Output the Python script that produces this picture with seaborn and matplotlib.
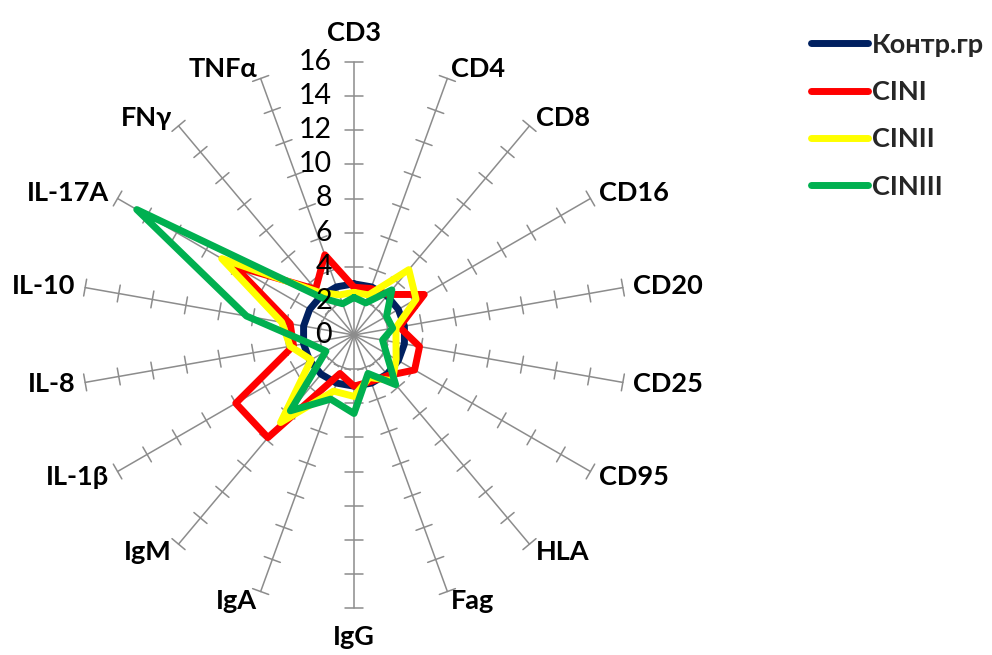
import numpy as np
import pandas as pd
import matplotlib
matplotlib.use("Agg")
import matplotlib.pyplot as plt
from matplotlib.lines import Line2D
import seaborn as sns

# Radar axes (clockwise from the top)
categories = ["CD3", "CD4", "CD8", "CD16", "CD20", "CD25", "CD95", "HLA", "Fag",
              "IgG", "IgA", "IgM", "IL-1β", "IL-8", "IL-10", "IL-17A", "FNγ", "TNFα"]

# Group values per axis
control = [3.0, 3.0, 3.0, 3.0, 3.0, 3.0, 3.0, 3.0, 3.0,
           3.0, 3.0, 3.0, 3.0, 3.0, 3.0, 3.0, 3.0, 3.0]
cin1 = [2.8, 2.9, 3.1, 4.75, 2.7, 3.9, 4.1, 3.1, 2.9,
        3.0, 2.4, 7.85, 8.0, 3.6, 3.8, 8.1, 3.5, 5.0]
cin2 = [2.5, 2.5, 5.0, 4.2, 2.5, 2.5, 2.85, 3.5, 2.65,
        3.6, 3.5, 6.7, 2.9, 3.8, 4.3, 8.95, 3.3, 2.5]
cin3 = [2.2, 2.0, 3.45, 2.2, 2.3, 1.7, 2.2, 3.8, 2.4,
        4.6, 4.0, 5.8, 1.9, 2.7, 6.4, 14.7, 2.8, 1.95]

series_names = ["Контр.гр", "CINI", "CINII", "CINIII"]
series_values = [control, cin1, cin2, cin3]
palette = ["#002060", "#FF0000", "#FFFF00", "#00B050"]

r_ticks = [0, 2, 4, 6, 8, 10, 12, 14, 16]
r_max = 16

sns.set_theme(style="white")
plt.rcParams["font.family"] = ["Lato", "DejaVu Sans"]

W, H = 992, 655
cx, cy = 354, 335          # centre of the web in pixels
scale = 273 / r_max        # pixels per unit

fig = plt.figure(figsize=(W / 100, H / 100), dpi=100)
ax = fig.add_axes([0, 0, 1, 1])
ax.set_xlim(-cx / scale, (W - cx) / scale)
ax.set_ylim(-(H - cy) / scale, cy / scale)
ax.axis("off")

n = len(categories)
theta = np.arange(n) * 2 * np.pi / n
sx, sy = np.sin(theta), np.cos(theta)

# spokes with cross ticks
grid_col = "#8c8c8c"
half_tick = 0.5
for i in range(n):
    ax.plot([0, r_max * sx[i]], [0, r_max * sy[i]], color=grid_col, lw=1.1, zorder=1)
    for r in r_ticks[1:]:
        px, py = r * sx[i], r * sy[i]
        ax.plot([px - half_tick * sy[i], px + half_tick * sy[i]],
                [py + half_tick * sx[i], py - half_tick * sx[i]],
                color=grid_col, lw=1.1, zorder=1)

# radial value labels along the top spoke
for r in r_ticks:
    ax.text(-1.3, r, str(r), ha="right", va="center", fontsize=20.5,
            color="black", zorder=5)

# category labels
for i, lab in enumerate(categories):
    s, c = sx[i], sy[i]
    if abs(s) < 0.1:
        rr = 17.0
        ha = "center"
        va = "bottom" if c > 0 else "top"
    else:
        rr = 16.6
        ha = "left" if s > 0 else "right"
        va = "center"
    ax.text(rr * s, rr * c, lab, ha=ha, va=va, fontsize=19.5,
            fontweight="bold", color="black")

# closed polygons, one per group
line_w = 5.0
for name, vals, col in zip(series_names, series_values, palette):
    v = np.array(list(vals) + [vals[0]])
    ang = np.append(theta, theta[0])
    poly = pd.DataFrame({"x": v * np.sin(ang), "y": v * np.cos(ang)})
    sns.lineplot(data=poly, x="x", y="y", sort=False, estimator=None,
                 color=col, linewidth=line_w, ax=ax, zorder=3,
                 solid_joinstyle="round", solid_capstyle="round")

handles = [Line2D([0], [0], color=c, lw=line_w, solid_capstyle="round")
           for c in palette]
leg = ax.legend(handles, series_names, loc="upper left",
                bbox_to_anchor=(800 / W, 1 - 22 / H), bbox_transform=fig.transFigure,
                frameon=False, handlelength=2.1, handletextpad=0.15,
                labelspacing=0.86, borderaxespad=0,
                prop={"family": ["Lato", "DejaVu Sans"], "weight": "bold", "size": 19.5})

fig.savefig("out.png", dpi=100, facecolor="white")
